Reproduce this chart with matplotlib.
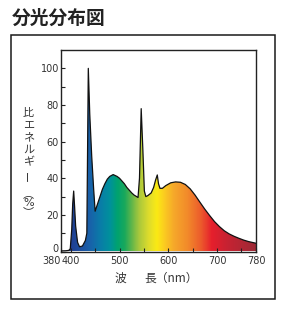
import matplotlib

matplotlib.use("Agg")
import matplotlib.pyplot as plt
import numpy as np
from matplotlib.colors import LinearSegmentedColormap
from matplotlib.patches import Rectangle

plt.rcParams["font.family"] = ["Noto Sans CJK JP", "DejaVu Sans"]

# ---- spectrum (wavelength nm / relative energy %)
wavelength = [380, 390, 396, 399, 402, 404, 406, 408, 410, 414, 418, 424, 430, 433,
              436, 439, 443, 447, 450, 455, 460, 465, 470, 475, 480, 487, 495,
              500, 505, 510, 515, 520, 525, 530, 535, 538, 541, 544.5, 548, 551,
              554, 558, 565, 570, 574, 577.5, 580, 583, 588, 595, 605, 615, 625,
              635, 645, 655, 665, 675, 685, 695, 705, 715, 725, 735, 745, 755,
              765, 780]
energy = [0.3, 0.4, 0.6, 1.5, 12, 26, 33, 24, 14, 5, 2.6, 3, 6, 10,
          100, 75, 52, 34, 22, 26, 30, 34, 37, 39.5, 41, 42, 41,
          40, 38.5, 37, 35, 33.5, 32, 30.8, 30, 29.5, 40, 78, 55, 33,
          30, 30.5, 32, 35, 39, 41.8, 37, 34.5, 34.5, 36, 37.5, 38, 37.8,
          36.6, 34.2, 30.8, 26.9, 23.1, 19.6, 16.3, 13.6, 11.3, 9.6, 8.3, 7.2, 6.2,
          5.4, 4.5]

# colour of the light at each wavelength (gradient under the curve)
grad_nm = [380, 400, 420, 440, 460, 480, 495, 510, 525, 540, 560, 577, 592,
           612, 640, 668, 690, 720, 780]
grad_col = ["#1a3580", "#203f92", "#1d50a0", "#1862aa", "#0a7ca8", "#00919c",
            "#00a270", "#18a85c", "#60b64a", "#a8c83c", "#dedc2c", "#fbea14",
            "#fbcc20", "#f6a82a", "#f28a2a", "#ec5a2c", "#e61f2c", "#c82232",
            "#9e2a36"]

x_major = [380, 400, 500, 600, 700, 780]
x_minor = [450, 550, 650, 750]
y_major = [0, 20, 40, 60, 80, 100]
y_minor = [10, 30, 50, 70, 90]

fig = plt.figure(figsize=(2.88, 3.10), dpi=100)
fig.patch.set_facecolor("white")

# outer frame
fig.add_artist(Rectangle((10.5 / 288, 10.7 / 310), 264 / 288, 264.3 / 310,
                         transform=fig.transFigure, fill=False,
                         edgecolor="#1a1a1a", linewidth=1.1))

fig.text(11.5 / 288, 1 - 18 / 310, "分光分布図", fontsize=13.5, fontweight="bold",
         ha="left", va="center", color="#222222")

ax = fig.add_axes([61 / 288, 58.5 / 310, 195 / 288, 202 / 310])
ax.set_xlim(380, 780)
ax.set_ylim(0, 110.3)

pos = [(n - 380) / 400 for n in grad_nm]
cmap = LinearSegmentedColormap.from_list("spec", list(zip(pos, grad_col)))
grad = np.linspace(0, 1, 800).reshape(1, -1)
im = ax.imshow(grad, cmap=cmap, aspect="auto", extent=[380, 780, 0, 110.3],
               origin="lower", zorder=1, interpolation="bilinear")
poly = ax.fill_between(wavelength, energy, 0, facecolor="none", edgecolor="none")
im.set_clip_path(poly.get_paths()[0], transform=ax.transData)
ax.plot(wavelength, energy, color="#111111", linewidth=0.9, zorder=3)

tick_font = ["Liberation Sans Narrow", "DejaVu Sans"]
ax.set_xticks(x_major)
ax.set_xticks(x_minor, minor=True)
ax.set_yticks(y_major)
ax.set_yticks(y_minor, minor=True)
ax.set_xticklabels([str(v) for v in x_major], family=tick_font, fontsize=7, color="#333333")
ax.set_yticklabels([str(v) for v in y_major], family=tick_font, fontsize=7, color="#333333")
ax.tick_params(which="both", direction="in", length=3.2, width=0.8, color="#222222")
ax.tick_params(axis="x", pad=3)
ax.tick_params(axis="y", pad=1.5)
ax.get_xticklabels()[0].set_horizontalalignment("right")
ax.get_yticklabels()[0].set_verticalalignment("baseline")
for s in ax.spines.values():
    s.set_linewidth(1.0)
    s.set_color("#222222")

# vertical Japanese y label
ylab = ["比", "エ", "ネ", "ル", "ギ"]
for i, ch in enumerate(ylab):
    fig.text(28.5 / 288, 1 - (113 + 12.4 * i) / 310, ch, fontsize=8,
             ha="center", va="center", color="#333333")
fig.text(28.5 / 288, 1 - 175.5 / 310, "ー", fontsize=8, rotation=90,
         ha="center", va="center", color="#333333")
fig.text(28.5 / 288, 1 - 194 / 310, "︵", fontsize=8, ha="center", va="center", color="#333333")
fig.text(28.5 / 288, 1 - 203 / 310, "%", fontsize=8, ha="center", va="center", color="#333333",
         family=["DejaVu Sans"])
fig.text(28.5 / 288, 1 - 212 / 310, "︶", fontsize=8, ha="center", va="center", color="#333333")

fig.text(120 / 288, 1 - 278 / 310, "波", fontsize=8.5, ha="center",
         va="center", color="#333333")
fig.text(144 / 288, 1 - 278 / 310, "長（nm）", fontsize=8.5, ha="left",
         va="center", color="#333333")

fig.savefig("out.png", dpi=100, facecolor="white")
